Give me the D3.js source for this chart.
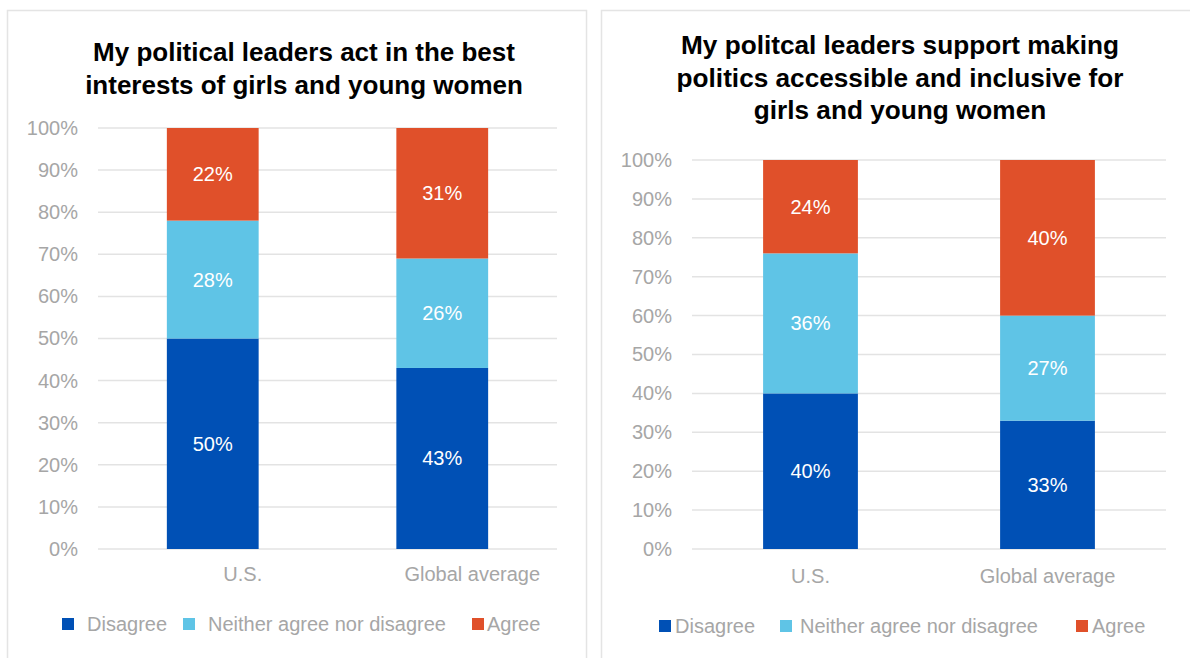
<!DOCTYPE html>
<html><head><meta charset="utf-8">
<script src="https://cdn.jsdelivr.net/npm/d3@7"></script>
<style>
html,body{margin:0;padding:0;background:#fff;}
svg{display:block;font-family:"Liberation Sans",Arial,sans-serif;}
</style></head>
<body>
<svg id="chart" width="1190" height="658"></svg>
<script>
const categories = ["U.S.", "Global average"];
const seriesNames = ["Disagree", "Neither agree nor disagree", "Agree"];
const seriesColors = ["#0050B5", "#5FC4E6", "#E0502A"];
const tickLabels = ["0%","10%","20%","30%","40%","50%","60%","70%","80%","90%","100%"];
const tickValues = [0,10,20,30,40,50,60,70,80,90,100];

const titleLeft = ["My political leaders act in the best", "interests of girls and young women"];
const disagreeLeft = [50, 43];
const neitherLeft = [28, 26];
const agreeLeft = [22, 31];

const titleRight = ["My politcal leaders support making", "politics accessible and inclusive for", "girls and young women"];
const disagreeRight = [40, 33];
const neitherRight = [36, 27];
const agreeRight = [24, 40];

const svg = d3.select("#chart");

function panel(cfg) {
  const g = svg.append("g");
  g.append("rect").attr("x", cfg.box[0]).attr("y", cfg.box[1]).attr("width", cfg.box[2]).attr("height", cfg.box[3])
    .attr("fill", "none").attr("stroke", "#e4e4e4").attr("stroke-width", 1.5);

  cfg.title.forEach((t, i) => {
    g.append("text").attr("x", cfg.titleX).attr("y", cfg.titleY + i * cfg.titleLH)
      .attr("text-anchor", "middle").attr("font-weight", "bold").attr("font-size", cfg.titleSize)
      .attr("fill", "#000").text(t);
  });

  const x = d3.scaleBand().domain(categories).range([cfg.x0, cfg.x1]).padding(0);
  const y = d3.scaleLinear().domain([0, 100]).range([cfg.yBottom, cfg.yTop]);

  g.selectAll("line.grid").data(tickValues).enter().append("line")
    .attr("x1", cfg.x0).attr("x2", cfg.x1)
    .attr("y1", d => y(d)).attr("y2", d => y(d))
    .attr("stroke", "#e3e3e3").attr("stroke-width", 1.5);

  const yAxis = d3.axisLeft(y).tickValues(tickValues).tickFormat((d, i) => tickLabels[i]).tickSize(0).tickPadding(0);
  const ya = g.append("g").attr("transform", `translate(${cfg.tickX},0)`).call(yAxis);
  ya.select(".domain").remove();
  ya.selectAll("text").attr("font-size", 20).attr("fill", "#a6a6a6").attr("font-family", "Liberation Sans, Arial, sans-serif");

  const xAxis = d3.axisBottom(x).tickSize(0).tickPadding(0);
  const xa = g.append("g").attr("transform", `translate(${cfg.catDX},${cfg.catY})`).call(xAxis);
  xa.select(".domain").remove();
  xa.selectAll("text").attr("font-size", 20).attr("fill", "#a6a6a6").attr("font-family", "Liberation Sans, Arial, sans-serif");

  const data = categories.map((c, i) => ({cat: c, vals: [cfg.series[0][i], cfg.series[1][i], cfg.series[2][i]]}));
  const stacked = d3.stack().keys([0,1,2]).value((d, k) => d.vals[k])(data);
  const bw = x.bandwidth() * 0.4;

  stacked.forEach((layer, k) => {
    layer.forEach(seg => {
      const cx = x(seg.data.cat) + x.bandwidth() / 2;
      g.append("rect").attr("x", cx - bw / 2).attr("width", bw)
        .attr("y", y(seg[1])).attr("height", y(seg[0]) - y(seg[1]))
        .attr("fill", seriesColors[k]);
      g.append("text").attr("x", cx).attr("y", (y(seg[0]) + y(seg[1])) / 2)
        .attr("dy", "0.35em").attr("text-anchor", "middle").attr("font-size", 20)
        .attr("fill", "#fff").text(seg.data.vals[k] + "%");
    });
  });

  cfg.legend.forEach((L, k) => {
    g.append("rect").attr("x", L[0]).attr("y", cfg.legY - 6).attr("width", 12).attr("height", 12).attr("fill", seriesColors[k]);
    g.append("text").attr("x", L[1]).attr("y", cfg.legY).attr("dy", "0.35em")
      .attr("font-size", 20).attr("fill", "#a6a6a6").text(seriesNames[k]);
  });
}

panel({
  box: [7.5, 10.5, 579, 700],
  title: titleLeft, titleX: 304, titleY: 61, titleLH: 33, titleSize: 26.0,
  x0: 98, x1: 557, yTop: 128, yBottom: 549, tickX: 78, catY: 567, catDX: 30,
  series: [disagreeLeft, neitherLeft, agreeLeft],
  legY: 624, legend: [[62, 87], [183, 208], [472, 487]]
});

panel({
  box: [601.5, 10.5, 620, 700],
  title: titleRight, titleX: 900, titleY: 54, titleLH: 32.5, titleSize: 26.2,
  x0: 692, x1: 1166, yTop: 160, yBottom: 549, tickX: 672, catY: 569, catDX: 0,
  series: [disagreeRight, neitherRight, agreeRight],
  legY: 626, legend: [[659, 675], [780, 800], [1076, 1092]]
});
</script>
</body></html>
